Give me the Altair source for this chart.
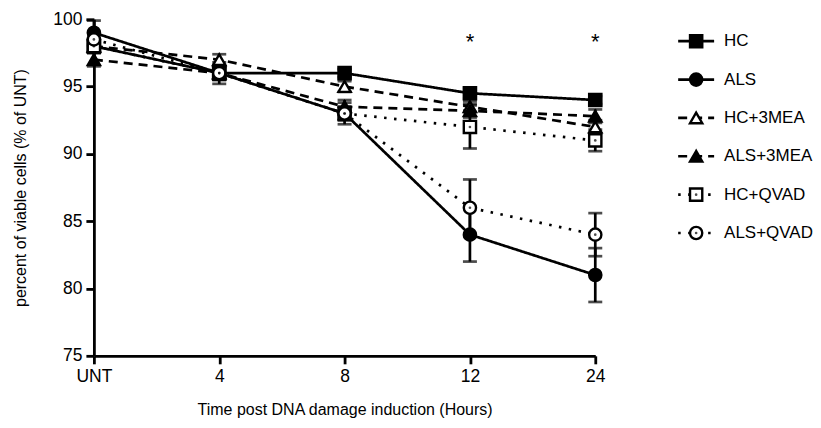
import altair as alt
import pandas as pd

x_labels = ["UNT", "4", "8", "12", "24"]
series = ["HC", "ALS", "HC+3MEA", "ALS+3MEA", "HC+QVAD", "ALS+QVAD"]

hc = [98, 96, 96, 94.5, 94]
als = [99, 96, 93, 84, 81]
hc_3mea = [98, 97, 95, 93.5, 92]
als_3mea = [97, 96, 93.5, 93.2, 92.8]
hc_qvad = [98, 96, 93, 92, 91]
als_qvad = [98.5, 96, 93, 86, 84]

hc_err = [0.5, 0.4, 0.3, 0.4, 0.3]
als_err = [0.9, 0.8, 0.8, 2.0, 2.0]
hc_3mea_err = [0.4, 0.4, 0.4, 0.4, 0.5]
als_3mea_err = [0.5, 0.5, 0.5, 0.5, 0.5]
hc_qvad_err = [0.5, 0.5, 0.5, 1.6, 0.8]
als_qvad_err = [0.5, 0.5, 0.5, 2.1, 1.6]

star_x = ["12", "24"]
star_y = [98.3, 98.3]
star_text = ["*", "*"]

shapes = ["square", "circle", "triangle-up", "triangle-up", "square", "circle"]
fills = ["black", "black", "white", "black", "white", "white"]
dashes = [[1, 0], [1, 0], [9, 6], [9, 6], [2.5, 7.5], [2.5, 7.5]]

vals = [hc, als, hc_3mea, als_3mea, hc_qvad, als_qvad]
errs = [hc_err, als_err, hc_3mea_err, als_3mea_err, hc_qvad_err, als_qvad_err]
rows = []
for s, v, e in zip(series, vals, errs):
    for t, yv, ev in zip(x_labels, v, e):
        rows.append({"series": s, "time": t, "value": yv, "lo": yv - ev, "hi": yv + ev})
df = pd.DataFrame(rows)
star_df = pd.DataFrame({"time": star_x, "value": star_y, "txt": star_text})
leg_df = pd.DataFrame({"series": series})
dot_df = df[df["series"].isin(["HC+QVAD", "ALS+QVAD"])]

FONT = "Liberation Sans"

xenc = alt.X("time:O", sort=x_labels,
             scale=alt.Scale(type="point", padding=0, domain=x_labels),
             axis=alt.Axis(title="Time post DNA damage induction (Hours)", labelAngle=0,
                           titlePadding=16))
yscale = alt.Scale(domain=[75, 100], nice=False, zero=False)
yenc = alt.Y("value:Q", scale=yscale,
             axis=alt.Axis(title="percent of viable cells (% of UNT)", values=[75, 80, 85, 90, 95, 100],
                           titlePadding=24))

shape_enc = alt.Shape("series:N", scale=alt.Scale(domain=series, range=shapes), legend=None)
fill_enc = alt.Fill("series:N", scale=alt.Scale(domain=series, range=fills), legend=None)
dash_enc = alt.StrokeDash("series:N", scale=alt.Scale(domain=series, range=dashes), legend=None)

lines = alt.Chart(df).mark_line(color="black", strokeWidth=2.7).encode(
    x=xenc, y=yenc, detail="series:N", strokeDash=dash_enc)

ebar = alt.Chart(df).mark_rule(color="black", strokeWidth=2.7).encode(
    x=alt.X("time:O", sort=x_labels), y=alt.Y("lo:Q", scale=yscale), y2="hi:Q")
cap_lo = alt.Chart(df).mark_tick(color="black", thickness=2.7, size=14, orient="horizontal").encode(
    x=alt.X("time:O", sort=x_labels), y=alt.Y("lo:Q", scale=yscale))
cap_hi = alt.Chart(df).mark_tick(color="black", thickness=2.7, size=14, orient="horizontal").encode(
    x=alt.X("time:O", sort=x_labels), y=alt.Y("hi:Q", scale=yscale))

pts = alt.Chart(df).mark_point(filled=True, stroke="black", strokeWidth=2.4, size=150, opacity=1).encode(
    x=alt.X("time:O", sort=x_labels), y=alt.Y("value:Q", scale=yscale), shape=shape_enc, fill=fill_enc)

dots = alt.Chart(dot_df).mark_point(filled=True, color="black", size=7, shape="circle").encode(
    x=alt.X("time:O", sort=x_labels), y=alt.Y("value:Q", scale=yscale))

stars = alt.Chart(star_df).mark_text(fontSize=22, font=FONT, color="black", baseline="middle").encode(
    x=alt.X("time:O", sort=x_labels), y=alt.Y("value:Q", scale=yscale), text="txt:N")

main = alt.layer(lines, ebar, cap_lo, cap_hi, pts, dots, stars).properties(width=502, height=337)

lscale = alt.Scale(type="point", domain=series, range=[22, 214], padding=0)
ly = alt.Y("series:N", sort=series, scale=lscale, axis=None)
leg_rule = alt.Chart(leg_df).mark_rule(color="black", strokeWidth=2.7).encode(
    y=ly, x=alt.value(10), x2=alt.value(46), strokeDash=dash_enc)
leg_pts = alt.Chart(leg_df).mark_point(filled=True, stroke="black", strokeWidth=2.4, size=150, opacity=1).encode(
    y=ly, x=alt.value(28), shape=shape_enc, fill=fill_enc)
leg_dots = alt.Chart(dot_df.drop_duplicates("series")).mark_point(filled=True, color="black", size=7, shape="circle").encode(
    y=ly, x=alt.value(28))
leg_txt = alt.Chart(leg_df).mark_text(align="left", baseline="middle", fontSize=17, font=FONT, color="black").encode(
    y=ly, x=alt.value(56), text="series:N")
legend = alt.layer(leg_rule, leg_pts, leg_dots, leg_txt).properties(width=128, height=337)

chart = alt.hconcat(main, legend, spacing=62).configure(
    font=FONT, padding={"left": 4, "top": 2, "right": 0, "bottom": 4}
).configure_view(stroke=None).configure_axis(
    domainColor="black", domainWidth=2.8, tickColor="black", tickWidth=2.8, tickSize=8,
    labelColor="black", titleColor="black", labelFont=FONT, titleFont=FONT,
    labelFontSize=17.5, titleFontSize=16, titleFontWeight="normal", grid=False, labelPadding=4
).configure_concat(spacing=62)

chart.save("out.html", embed_options={"renderer": "svg", "actions": False})
